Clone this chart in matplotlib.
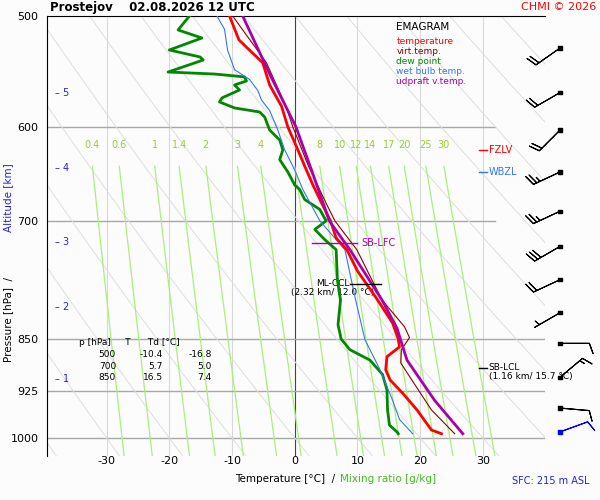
"""
Emagram Prostejov 02.08.2026 12 UTC
"""
import numpy as np
import matplotlib
matplotlib.use('Agg')
import matplotlib.pyplot as plt
from matplotlib.ticker import FixedLocator, NullLocator

plt.rcParams['axes.unicode_minus'] = False

# profiles (hPa, degC)
temp_p = [500, 520, 540, 560, 580, 600, 620, 640, 660, 680, 700, 720, 734, 760, 797, 828, 850, 861, 875, 894, 909, 929, 955, 987, 993]
temp_t = [-10.4, -8.9, -5.1, -4.0, -2.1, -1.1, 0.3, 1.6, 2.9, 4.3, 5.7, 6.6, 8.3, 10.0, 13.2, 15.6, 16.5, 16.7, 14.7, 14.5, 15.2, 17.2, 19.5, 21.8, 23.4]

vt_p = [500, 540, 580, 600, 640, 680, 700, 734, 797, 833, 848, 865, 884, 911, 955, 993]
vt_t = [-9.9, -4.5, -1.4, -0.3, 2.2, 5.0, 6.4, 9.9, 13.9, 17.5, 18.3, 17.0, 16.9, 18.8, 21.8, 25.5]

dew_p = [500, 511.6, 518.4, 528.7, 534.8, 537.5, 548.2, 550, 552.6, 556.3, 560, 564.6, 572, 575.8, 581.5, 585.4, 590.2,
         603, 613, 623, 633, 646, 660, 665, 676, 687, 700, 710, 722, 734, 771, 797, 830, 850, 865, 880, 901, 924, 955, 979, 990, 993]
dew_t = [-16.8, -18.6, -14.8, -20.0, -15.1, -14.6, -20.2, -12.8, -8.0, -7.7, -9.6, -8.8, -11.6, -12.0, -9.6, -5.6, -4.8,
         -4.0, -2.4, -1.9, -2.4, -1.1, 0.0, 0.8, 1.6, 4.0, 5.0, 3.2, 4.8, 6.6, 6.8, 7.3, 6.9, 7.4, 8.8, 12.0, 14.0, 14.7, 14.8, 15.1, 16.3, 16.5]

wb_p = [500, 511, 529, 546, 555, 565, 574, 584, 603, 623, 644, 665, 700, 734, 797, 851, 894, 940, 970, 993]
wb_t = [-12.4, -11.2, -10.7, -9.6, -7.2, -5.9, -5.3, -4.0, -2.7, -1.6, 0.0, 1.3, 4.0, 8.0, 9.7, 11.2, 13.6, 15.6, 16.7, 18.8]

parc_p = [500, 550, 600, 650, 700, 734, 797, 835, 880, 940, 993]
parc_t = [-8.3, -4.0, 0.2, 3.0, 5.5, 8.8, 13.9, 16.3, 17.9, 22.3, 26.8]

# table values
tab_p = [500, 700, 850]
tab_t = [-10.4, 5.7, 16.5]
tab_td = [-16.8, 5.0, 7.4]

# altitude ticks (km -> hPa)
alt_km = [1, 2, 3, 4, 5]
alt_p = [908, 806, 725, 642, 567]

mix_ratios = [0.4, 0.6, 1, 1.4, 2, 3, 4, 6, 8, 10, 12, 14, 17, 20, 25, 30]
mix_labels = ['0.4', '0.6', '1', '1.4', '2', '3', '4', '', '8', '10', '12', '14', '17', '20', '25', '30']

# wind (hPa, direction deg, speed kt)
wind_p = [527, 567, 603, 646, 689, 730, 771, 814, 856, 905, 952, 990]
wind_dir = [235, 240, 225, 245, 245, 240, 245, 240, 90, 50, 95, 70]
wind_spd = [20, 20, 20, 25, 25, 30, 20, 5, 10, 15, 10, 10]

p_grid = [600, 700, 850, 925, 1000]

fig = plt.figure(figsize=(6, 5), dpi=100)
fig.patch.set_facecolor('#fcfcfc')
ax = fig.add_axes([47/600, 1 - 456/500, 498/600, 440/500])
ax.set_facecolor('#fcfcfc')
ax.set_yscale('log')
ax.set_ylim(1030, 500)
ax.set_xlim(-39.5, 39.9)

for s in ['right', 'bottom']:
    ax.spines[s].set_visible(False)

ax.yaxis.set_major_locator(FixedLocator([500] + p_grid))
ax.yaxis.set_minor_locator(NullLocator())
ax.set_yticklabels(['500'] + [str(p) for p in p_grid], fontsize=8)
ax.tick_params(axis='y', length=0, pad=6)
ax.set_xticks([-30, -20, -10, 0, 10, 20, 30])
ax.tick_params(axis='x', length=0, labelsize=8, pad=0)

# temperature grid
for t in range(-30, 31, 10):
    ax.axvline(t, color='#444444' if t == 0 else '#d8d8d8', lw=0.8, zorder=1)
for p in p_grid:
    xmax = 1.0 if p >= 850 else (31.9 + 39.5) / 79.4
    ax.axhline(p, xmax=xmax, color='#a8a8a8', lw=1, zorder=1)

# dry adiabats
pp = np.linspace(500, 1030, 100)
for th in np.arange(273.15 - 60, 273.15 + 160, 10):
    ax.plot(th * (pp / 1000) ** 0.286 - 273.15, pp, color='#dedede', lw=0.7, zorder=1)

# mixing ratio lines
pm = np.linspace(640, 1030, 50)
for w, lab in zip(mix_ratios, mix_labels):
    e = w * pm / (622 + w)
    lne = np.log(e / 6.112)
    td = 243.5 * lne / (17.67 - lne)
    ax.plot(td, pm, color='#a8f07a', lw=0.9, zorder=1)
    if lab:
        ax.text(td[0], 618, lab, color='#9acd32', fontsize=7, ha='center', va='center')

# profiles
ax.plot(dew_t, dew_p, color='#008800', lw=2, zorder=4)
ax.plot(wb_t, wb_p, color='#3377ee', lw=0.8, zorder=4)
ax.plot(temp_t, temp_p, color='#ff0000', lw=2, zorder=5)
ax.plot(vt_t, vt_p, color='#8b0000', lw=0.8, zorder=5)
ax.plot(parc_t, parc_p, color='#aa00aa', lw=2, zorder=6)

# altitude ticks
for km, p in zip(alt_km, alt_p):
    ax.text(-38.2, p, '– ' + str(km), color='#2222dd', fontsize=7, va='center')

# levels
ax.plot([29.4, 30.6], [623, 623], color='red', lw=1)
ax.text(30.9, 623, 'FZLV', color='red', fontsize=7, va='center')
ax.plot([29.4, 30.6], [646, 646], color='#3377ee', lw=1)
ax.text(30.9, 646, 'WBZL', color='#3377ee', fontsize=7, va='center')
ax.plot([2.7, 9.9], [726, 726], color='#aa00aa', lw=1, zorder=7)
ax.text(10.6, 726, 'SB-LFC', color='#aa00aa', fontsize=7, va='center')
ax.plot([8.8, 13.7], [776, 776], color='black', lw=1, zorder=7)
ax.text(6.0, 781, 'ML-CCL\n(2.32 km/ 12.0 °C)', fontsize=6.5, ha='center', va='center', linespacing=1.0)
ax.plot([29.4, 30.6], [892, 892], color='black', lw=1, zorder=7)
ax.text(30.9, 897, 'SB-LCL\n(1.16 km/ 15.7 °C)', fontsize=6.5, ha='left', va='center',
        linespacing=1.0, clip_on=False)

# legend
lx = 16.2
ax.text(lx, 509, 'EMAGRAM', fontsize=7.5, va='center')
leg = [('temperature', '#ff0000'), ('virt.temp.', '#8b0000'), ('dew point', '#008800'),
       ('wet bulb temp.', '#3377ee'), ('udpraft v.temp.', '#aa00aa')]
leg_p = [521, 530, 539, 548, 557]
for (name, c), p in zip(leg, leg_p):
    ax.text(lx, p, name, color=c, fontsize=6.5, va='center')

# table
ax.text(-34.4, 855, 'p [hPa]     T      Td [°C]', fontsize=6.5, va='center')
for i, (p, t, td) in enumerate(zip(tab_p, tab_t, tab_td)):
    y = [872, 889, 906][i]
    ax.text(-28.5, y, str(p), fontsize=6.5, ha='right', va='center')
    ax.text(-21.0, y, f'{t:.1f}', fontsize=6.5, ha='right', va='center')
    ax.text(-13.2, y, f'{td:.1f}', fontsize=6.5, ha='right', va='center')

# wind barbs on an overlay with normal (non-inverted) orientation
fig.canvas.draw()
to_fig = fig.transFigure.inverted()
pts = [to_fig.transform(ax.transData.transform((42.3, p))) for p in wind_p]
bx = [pt[0] for pt in pts]
by = [pt[1] for pt in pts]
bax = fig.add_axes([0, 0, 1, 1], facecolor='none')
bax.set_xlim(0, 1)
bax.set_ylim(0, 1)
bax.axis('off')
wd = np.radians(wind_dir)
u = -np.array(wind_spd) * np.sin(wd)
v = -np.array(wind_spd) * np.cos(wd)
colors = ['black'] * (len(wind_p) - 1) + ['blue']
bax.barbs(bx, by, u, v, length=6.5, lw=0.8, color=colors, zorder=8,
          sizes=dict(emptybarb=0.0, height=0.35))
bax.scatter(bx, by, s=6, marker='s', c=colors, zorder=9)

# labels
fig.text(50/600, 1 - 8/500, 'Prostejov    02.08.2026 12 UTC', fontsize=8.5, fontweight='bold', va='center')
fig.text(596/600, 1 - 7/500, 'CHMI © 2026', fontsize=8, color='red', ha='right', va='center')
fig.text(8/600, 1 - 362/500, 'Pressure [hPa]  /', rotation=90, fontsize=7.5, ha='center', va='bottom')
fig.text(8/600, 1 - 232/500, 'Altitude [km]', rotation=90, fontsize=7.5, color='#2222dd', ha='center', va='bottom')
fig.text(335/600, 1 - 479/500, 'Temperature [°C]  /', fontsize=7.5, ha='right', va='center')
fig.text(340/600, 1 - 479/500, 'Mixing ratio [g/kg]', fontsize=7.5, color='#44bb22', ha='left', va='center')
fig.text(590/600, 1 - 481/500, 'SFC: 215 m ASL', fontsize=7, color='#2222dd', ha='right', va='center')

fig.savefig('out.png', dpi=100, facecolor=fig.get_facecolor())
